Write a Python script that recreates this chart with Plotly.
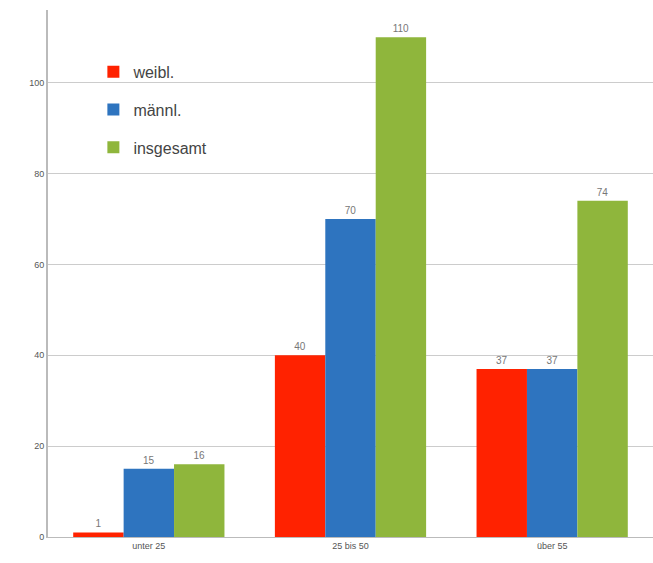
import plotly.graph_objects as go

categories = ["unter 25", "25 bis 50", "über 55"]
weibl = [1, 40, 37]
maennl = [15, 70, 37]
insgesamt = [16, 110, 74]
series_names = ["weibl.", "männl.", "insgesamt"]
colors = ["#FF2200", "#2E74BF", "#8FB63C"]

fig = go.Figure()
for i, (name, vals, col) in enumerate(zip(series_names, [weibl, maennl, insgesamt], colors)):
    fig.add_trace(go.Bar(
        x=categories, y=vals, name=name, marker_color=col, marker_line_width=0,
        text=[str(v) for v in vals], textposition="outside",
        textfont=dict(size=10, color="#777777", family="Liberation Sans"),
        cliponaxis=False, legendgroup=name,
    ))

fig.update_layout(
    width=653, height=563,
    margin=dict(l=48, r=0, t=10, b=26),
    paper_bgcolor="white", plot_bgcolor="white",
    barmode="group", bargap=0.25, bargroupgap=0,
    showlegend=True,
    legend=dict(x=0.075, y=0.915, xanchor="left", yanchor="top",
                bgcolor="rgba(0,0,0,0)", borderwidth=0,
                font=dict(size=16, color="#444444", family="Liberation Sans"),
                tracegroupgap=14),
    xaxis=dict(showline=True, linecolor="#BBBBBB", linewidth=1, ticks="",
               tickfont=dict(size=9, color="#555555", family="Liberation Sans"),
               showgrid=False),
    yaxis=dict(range=[0, 116], tickvals=[0, 20, 40, 60, 80, 100],
               showline=True, linecolor="#BBBBBB", linewidth=2,
               showgrid=True, gridcolor="#CCCCCC", gridwidth=1,
               ticks="", zeroline=False,
               tickfont=dict(size=9, color="#555555", family="Liberation Sans")),
    shapes=[dict(type="rect", xref="paper", yref="paper",
                 x0=0.045, x1=0.359, y0=0.677, y1=0.934,
                 fillcolor="white", line_width=0, layer="between")],
)

fig.write_html("out.html")
